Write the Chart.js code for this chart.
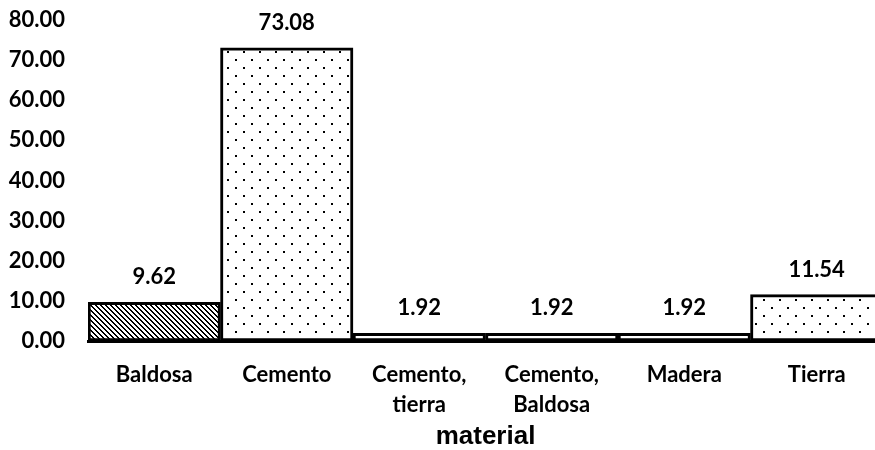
<!DOCTYPE html>
<html>
<head>
<meta charset="utf-8">
<script src="https://cdn.jsdelivr.net/npm/chart.js@4"></script>
<style>
  html, body { margin: 0; padding: 0; background: #fff; overflow: hidden; width: 875px; height: 450px; }
  #wrap { width: 883px; height: 450px; position: relative; }
</style>
</head>
<body>
<div id="wrap"><canvas id="c"></canvas></div>
<script>
const categories = ['Baldosa', 'Cemento', ['Cemento,', 'tierra'], ['Cemento,', 'Baldosa'], 'Madera', 'Tierra'];
const values = [9.62, 73.08, 1.92, 1.92, 1.92, 11.54];
const patternKinds = ['hatch', 'dots', 'dashes', 'white', 'white', 'dots'];
const axisTitle = 'material';

function makePattern(kind) {
  const c = document.createElement('canvas');
  const g = c.getContext('2d');
  if (kind === 'dots') {
    c.width = 16; c.height = 16;
    g.fillStyle = '#fff'; g.fillRect(0, 0, 16, 16);
    g.fillStyle = '#000';
    g.fillRect(3, 3, 2, 2);
    g.fillRect(11, 11, 2, 2);
  } else if (kind === 'hatch') {
    c.width = 5; c.height = 5;
    g.fillStyle = '#fff'; g.fillRect(0, 0, 5, 5);
    g.fillStyle = '#000';
    for (let y = 0; y < 5; y++) for (let x = 0; x < 5; x++) {
      const d = ((x - y) % 5 + 5) % 5;
      if (d === 0 || d === 1) g.fillRect(x, y, 1, 1);
    }
  } else if (kind === 'dashes') {
    c.width = 10; c.height = 8;
    g.fillStyle = '#fff'; g.fillRect(0, 0, 10, 8);
    g.fillStyle = '#000';
    g.fillRect(2, 3, 5, 2);
  } else {
    return '#ffffff';
  }
  return g.createPattern(c, 'repeat');
}

const tickFont = { family: 'Lato', size: 22, weight: 'bold', lineHeight: 1.36 };

const valueLabels = {
  id: 'valueLabels',
  afterDatasetsDraw(chart) {
    const ctx = chart.ctx;
    const meta = chart.getDatasetMeta(0);
    ctx.save();
    ctx.font = 'bold 22px Lato';
    ctx.fillStyle = '#000';
    ctx.textAlign = 'center';
    ctx.textBaseline = 'middle';
    meta.data.forEach((el, i) => {
      ctx.fillText(values[i].toFixed(2), el.x, el.y - 25);
    });
    ctx.restore();
  }
};

new Chart(document.getElementById('c'), {
  type: 'bar',
  data: {
    labels: categories,
    datasets: [{
      data: values,
      backgroundColor: patternKinds.map(makePattern),
      borderColor: '#000',
      borderWidth: 3,
      borderSkipped: false,
      categoryPercentage: 1.0,
      barPercentage: 1.0
    }]
  },
  options: {
    responsive: true,
    maintainAspectRatio: false,
    animation: false,
    layout: { padding: { top: 0, right: 0, left: 0, bottom: 0 } },
    plugins: {
      legend: { display: false },
      tooltip: { enabled: false }
    },
    scales: {
      x: {
        grid: { display: false, drawTicks: false },
        border: { display: true, color: '#000', width: 3 },
        ticks: { color: '#000', font: tickFont, padding: 19, maxRotation: 0, autoSkip: false },
        title: {
          display: true,
          text: axisTitle,
          color: '#000',
          font: { family: 'Liberation Sans', size: 26, weight: 'bold', lineHeight: 1.0 },
          padding: { top: 0, bottom: 0 }
        },
        afterFit(s) { s.height = 109; }
      },
      y: {
        min: 0,
        max: 80,
        grid: { display: false, drawTicks: false },
        border: { display: false },
        ticks: {
          stepSize: 10,
          color: '#000',
          font: { family: 'Lato', size: 22, weight: 'bold' },
          padding: 23,
          callback: v => Number(v).toFixed(2)
        },
        afterFit(s) { s.width = 88; s.paddingTop = 20; s.paddingBottom = 20; }
      }
    }
  },
  plugins: [valueLabels]
});
</script>
</body>
</html>
